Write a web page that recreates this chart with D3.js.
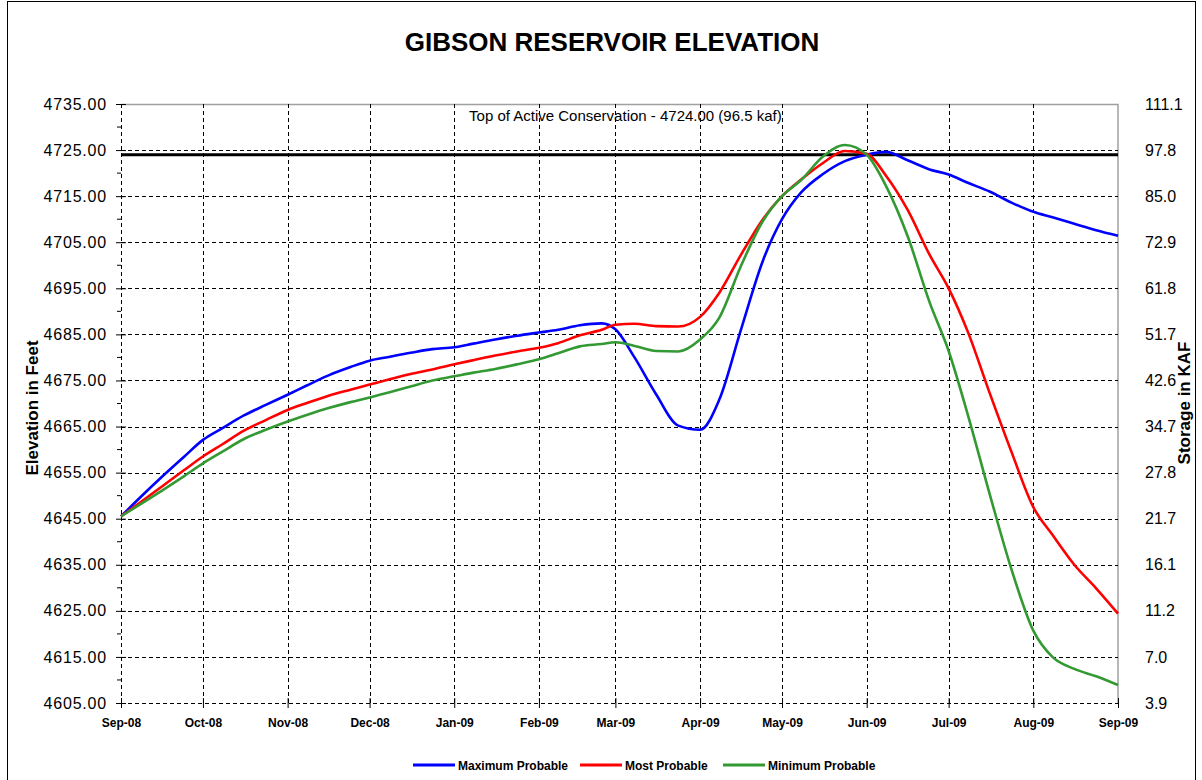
<!DOCTYPE html>
<html>
<head>
<meta charset="utf-8">
<script src="https://cdn.jsdelivr.net/npm/d3@7"></script>
<style>
  body { margin: 0; background: #fff; }
  text { font-family: Arial, "Liberation Sans", sans-serif; }
</style>
</head>
<body>
<div id="chart"></div>
<script>
// chart values
var dates = [
  "2008-09-01","2008-09-08","2008-09-16","2008-09-24",
  "2008-10-01","2008-10-08","2008-10-16","2008-10-24",
  "2008-11-01","2008-11-08","2008-11-16","2008-11-24",
  "2008-12-01","2008-12-08","2008-12-16","2008-12-24",
  "2009-01-01","2009-01-08","2009-01-16","2009-01-24",
  "2009-02-01","2009-02-08","2009-02-16","2009-02-24",
  "2009-03-01","2009-03-08","2009-03-16","2009-03-24",
  "2009-04-01","2009-04-08","2009-04-16","2009-04-24",
  "2009-05-01","2009-05-08","2009-05-16","2009-05-24",
  "2009-06-01","2009-06-08","2009-06-16","2009-06-24",
  "2009-07-01","2009-07-08","2009-07-16","2009-07-24",
  "2009-08-01","2009-08-08","2009-08-16","2009-08-24",
  "2009-09-01"
];

var maxProbable = [
  4645.5, 4649.6, 4654.1, 4658.4,
  4662.1, 4664.6, 4667.4, 4669.7,
  4671.9, 4673.9, 4676.1, 4677.9,
  4679.3, 4680.1, 4681.0, 4681.8,
  4682.2, 4683.0, 4683.9, 4684.7,
  4685.4, 4686.0, 4687.0, 4687.4,
  4686.1, 4680.0, 4671.9, 4665.2,
  4664.3, 4670.8, 4686.1, 4701.0,
  4710.0, 4715.8, 4719.8, 4722.6,
  4724.0, 4724.6, 4722.8, 4720.8,
  4719.7, 4717.9, 4716.0, 4713.6,
  4711.6, 4710.4, 4709.0, 4707.6,
  4706.4
];

var mostProbable = [
  4645.5, 4648.5, 4652.0, 4655.5,
  4658.5, 4661.1, 4664.1, 4666.4,
  4668.6, 4670.1, 4671.7, 4673.0,
  4674.1, 4675.2, 4676.4, 4677.4,
  4678.5, 4679.4, 4680.4, 4681.3,
  4682.1, 4683.1, 4684.8, 4686.0,
  4687.1, 4687.3, 4686.8, 4686.7,
  4688.8, 4694.0, 4702.3, 4710.0,
  4715.0, 4718.6, 4722.2, 4724.8,
  4724.2, 4719.5, 4712.0, 4702.3,
  4695.0, 4685.6, 4672.3, 4659.5,
  4647.5, 4641.5, 4635.0, 4629.9,
  4624.4
];

var minProbable = [
  4645.5, 4648.1, 4651.1, 4654.2,
  4657.0, 4659.5, 4662.3, 4664.3,
  4666.1, 4667.5, 4669.0, 4670.3,
  4671.3, 4672.4, 4673.7, 4675.0,
  4675.9, 4676.7, 4677.5, 4678.5,
  4679.6, 4680.9, 4682.4, 4682.9,
  4683.3, 4682.5, 4681.4, 4681.3,
  4683.9, 4688.6, 4699.9, 4709.6,
  4715.0, 4718.5, 4723.6, 4726.1,
  4724.0, 4717.3, 4706.3, 4692.0,
  4681.4, 4667.6, 4650.4, 4634.0,
  4620.7, 4615.0, 4612.4, 4610.8,
  4608.9
];

var elevationTicks = [4605, 4615, 4625, 4635, 4645, 4655, 4665, 4675, 4685, 4695, 4705, 4715, 4725, 4735];
var storageLabels = ["3.9", "7.0", "11.2", "16.1", "21.7", "27.8", "34.7", "42.6", "51.7", "61.8", "72.9", "85.0", "97.8", "111.1"];

var topConservation = 4724;
var topConservationLabel = "Top of Active Conservation - 4724.00 (96.5 kaf)";

var seriesNames = ["Maximum Probable", "Most Probable", "Minimum Probable"];
var seriesColors = ["#0000ff", "#ff0000", "#339933"];

// SVG wrapper dimensions
var svgWidth = 1202;
var svgHeight = 780;

var margin = { top: 104, right: 84, bottom: 77, left: 121 };
var width = svgWidth - margin.left - margin.right;
var height = svgHeight - margin.top - margin.bottom;

var svg = d3.select("#chart")
  .append("svg")
  .attr("width", svgWidth)
  .attr("height", svgHeight);

// outer chart border
svg.append("rect")
  .attr("x", 7.5)
  .attr("y", 1.5)
  .attr("width", 1188)
  .attr("height", 800)
  .attr("fill", "none")
  .attr("stroke", "#000")
  .attr("stroke-width", 1);

var chartGroup = svg.append("g")
  .attr("transform", `translate(${margin.left}, ${margin.top})`);

var parseDate = d3.timeParse("%Y-%m-%d");
var dateValues = dates.map(parseDate);

var xTimeScale = d3.scaleTime()
  .domain([dateValues[0], dateValues[dateValues.length - 1]])
  .range([0, width]);

var yLinearScale = d3.scaleLinear()
  .domain([4605, 4735])
  .range([height, 0]);

var monthTicks = d3.timeMonth.range(dateValues[0], d3.timeDay.offset(dateValues[dateValues.length - 1], 1));

// plot frame (grey top and right)
chartGroup.append("path")
  .attr("d", `M0,0.5H${width}V${height}`)
  .attr("fill", "none")
  .attr("stroke", "#a0a0a0")
  .attr("stroke-width", 1.5);

// dashed grid lines
chartGroup.append("g")
  .selectAll("line")
  .data(elevationTicks.slice(0, -1))
  .enter()
  .append("line")
  .attr("x1", 0)
  .attr("x2", width)
  .attr("y1", d => Math.round(yLinearScale(d)) + 0.5)
  .attr("y2", d => Math.round(yLinearScale(d)) + 0.5)
  .attr("stroke", "#000")
  .attr("stroke-width", 1)
  .attr("stroke-dasharray", "4,3");

chartGroup.append("g")
  .selectAll("line")
  .data(monthTicks.slice(0, -1))
  .enter()
  .append("line")
  .attr("x1", d => Math.round(xTimeScale(d)) + 0.5)
  .attr("x2", d => Math.round(xTimeScale(d)) + 0.5)
  .attr("y1", 0)
  .attr("y2", height)
  .attr("stroke", "#000")
  .attr("stroke-width", 1)
  .attr("stroke-dasharray", "4,3");

// left axis
var leftAxis = d3.axisLeft(yLinearScale)
  .tickValues(elevationTicks)
  .tickFormat(d3.format(".2f"))
  .tickSize(5)
  .tickPadding(9);

var yAxis = chartGroup.append("g")
  .classed("y-axis", true)
  .call(leftAxis);

yAxis.select(".domain").remove();
yAxis.selectAll(".tick line").attr("x2", -5).attr("x1", 5).attr("stroke", "#000");
yAxis.selectAll(".tick text")
  .attr("font-size", "16px")
  .attr("letter-spacing", "0.8px")
  .attr("fill", "#000");

// minor ticks on the left axis
chartGroup.append("g")
  .selectAll("line")
  .data(elevationTicks.slice(0, -1))
  .enter()
  .append("line")
  .attr("x1", -4)
  .attr("x2", 0)
  .attr("y1", d => yLinearScale(d + 5))
  .attr("y2", d => yLinearScale(d + 5))
  .attr("stroke", "#000");

// bottom axis
var bottomAxis = d3.axisBottom(xTimeScale)
  .tickValues(monthTicks)
  .tickFormat(d3.timeFormat("%b-%y"))
  .tickSize(5)
  .tickPadding(10);

var xAxis = chartGroup.append("g")
  .classed("x-axis", true)
  .attr("transform", `translate(0, ${height})`)
  .call(bottomAxis);

xAxis.select(".domain").remove();
xAxis.selectAll(".tick line").attr("y1", -5).attr("y2", 5).attr("stroke", "#000");
xAxis.selectAll(".tick text")
  .attr("font-size", "12px")
  .attr("font-weight", "bold")
  .attr("fill", "#000");

// right storage labels share the elevation positions
var rightAxis = d3.axisRight(yLinearScale)
  .tickValues(elevationTicks)
  .tickFormat((d, i) => storageLabels[i])
  .tickSize(0)
  .tickPadding(27);

var y2Axis = chartGroup.append("g")
  .attr("transform", `translate(${width}, 0)`)
  .call(rightAxis);

y2Axis.select(".domain").remove();
y2Axis.selectAll(".tick text")
  .attr("font-size", "16px")
  .attr("fill", "#000");

// top of active conservation
chartGroup.append("line")
  .attr("x1", 0)
  .attr("x2", width)
  .attr("y1", yLinearScale(topConservation))
  .attr("y2", yLinearScale(topConservation))
  .attr("stroke", "#000")
  .attr("stroke-width", 3);

chartGroup.append("text")
  .attr("x", xTimeScale(parseDate("2009-03-01")) + 10)
  .attr("y", yLinearScale(4735) + 17)
  .attr("text-anchor", "middle")
  .attr("font-size", "15px")
  .attr("fill", "#000")
  .text(topConservationLabel);

// series lines
var seriesData = [maxProbable, mostProbable, minProbable];

var line = d3.line()
  .x((d, i) => xTimeScale(dateValues[i]))
  .y(d => yLinearScale(d))
  .curve(d3.curveMonotoneX);

chartGroup.selectAll(".series")
  .data(seriesData)
  .enter()
  .append("path")
  .attr("class", "series")
  .attr("d", d => line(d))
  .attr("fill", "none")
  .attr("stroke", (d, i) => seriesColors[i])
  .attr("stroke-width", 2.6);

// title
svg.append("text")
  .attr("x", 612)
  .attr("y", 51)
  .attr("text-anchor", "middle")
  .attr("font-size", "26px")
  .attr("font-weight", "bold")
  .text("GIBSON RESERVOIR ELEVATION");

// axis titles
svg.append("text")
  .attr("transform", "translate(38, 408) rotate(-90)")
  .attr("text-anchor", "middle")
  .attr("font-size", "17px")
  .attr("font-weight", "bold")
  .text("Elevation in Feet");

svg.append("text")
  .attr("transform", "translate(1190, 403) rotate(-90)")
  .attr("text-anchor", "middle")
  .attr("font-size", "17px")
  .attr("font-weight", "bold")
  .text("Storage in KAF");

// legend
var legendX = [413, 580, 723];
var legend = svg.append("g");

seriesNames.forEach(function(name, i) {
  legend.append("line")
    .attr("x1", legendX[i])
    .attr("x2", legendX[i] + 42)
    .attr("y1", 765)
    .attr("y2", 765)
    .attr("stroke", seriesColors[i])
    .attr("stroke-width", 3);

  legend.append("text")
    .attr("x", legendX[i] + 45)
    .attr("y", 769.5)
    .attr("font-size", "12px")
    .attr("font-weight", "bold")
    .text(name);
});
</script>
</body>
</html>
